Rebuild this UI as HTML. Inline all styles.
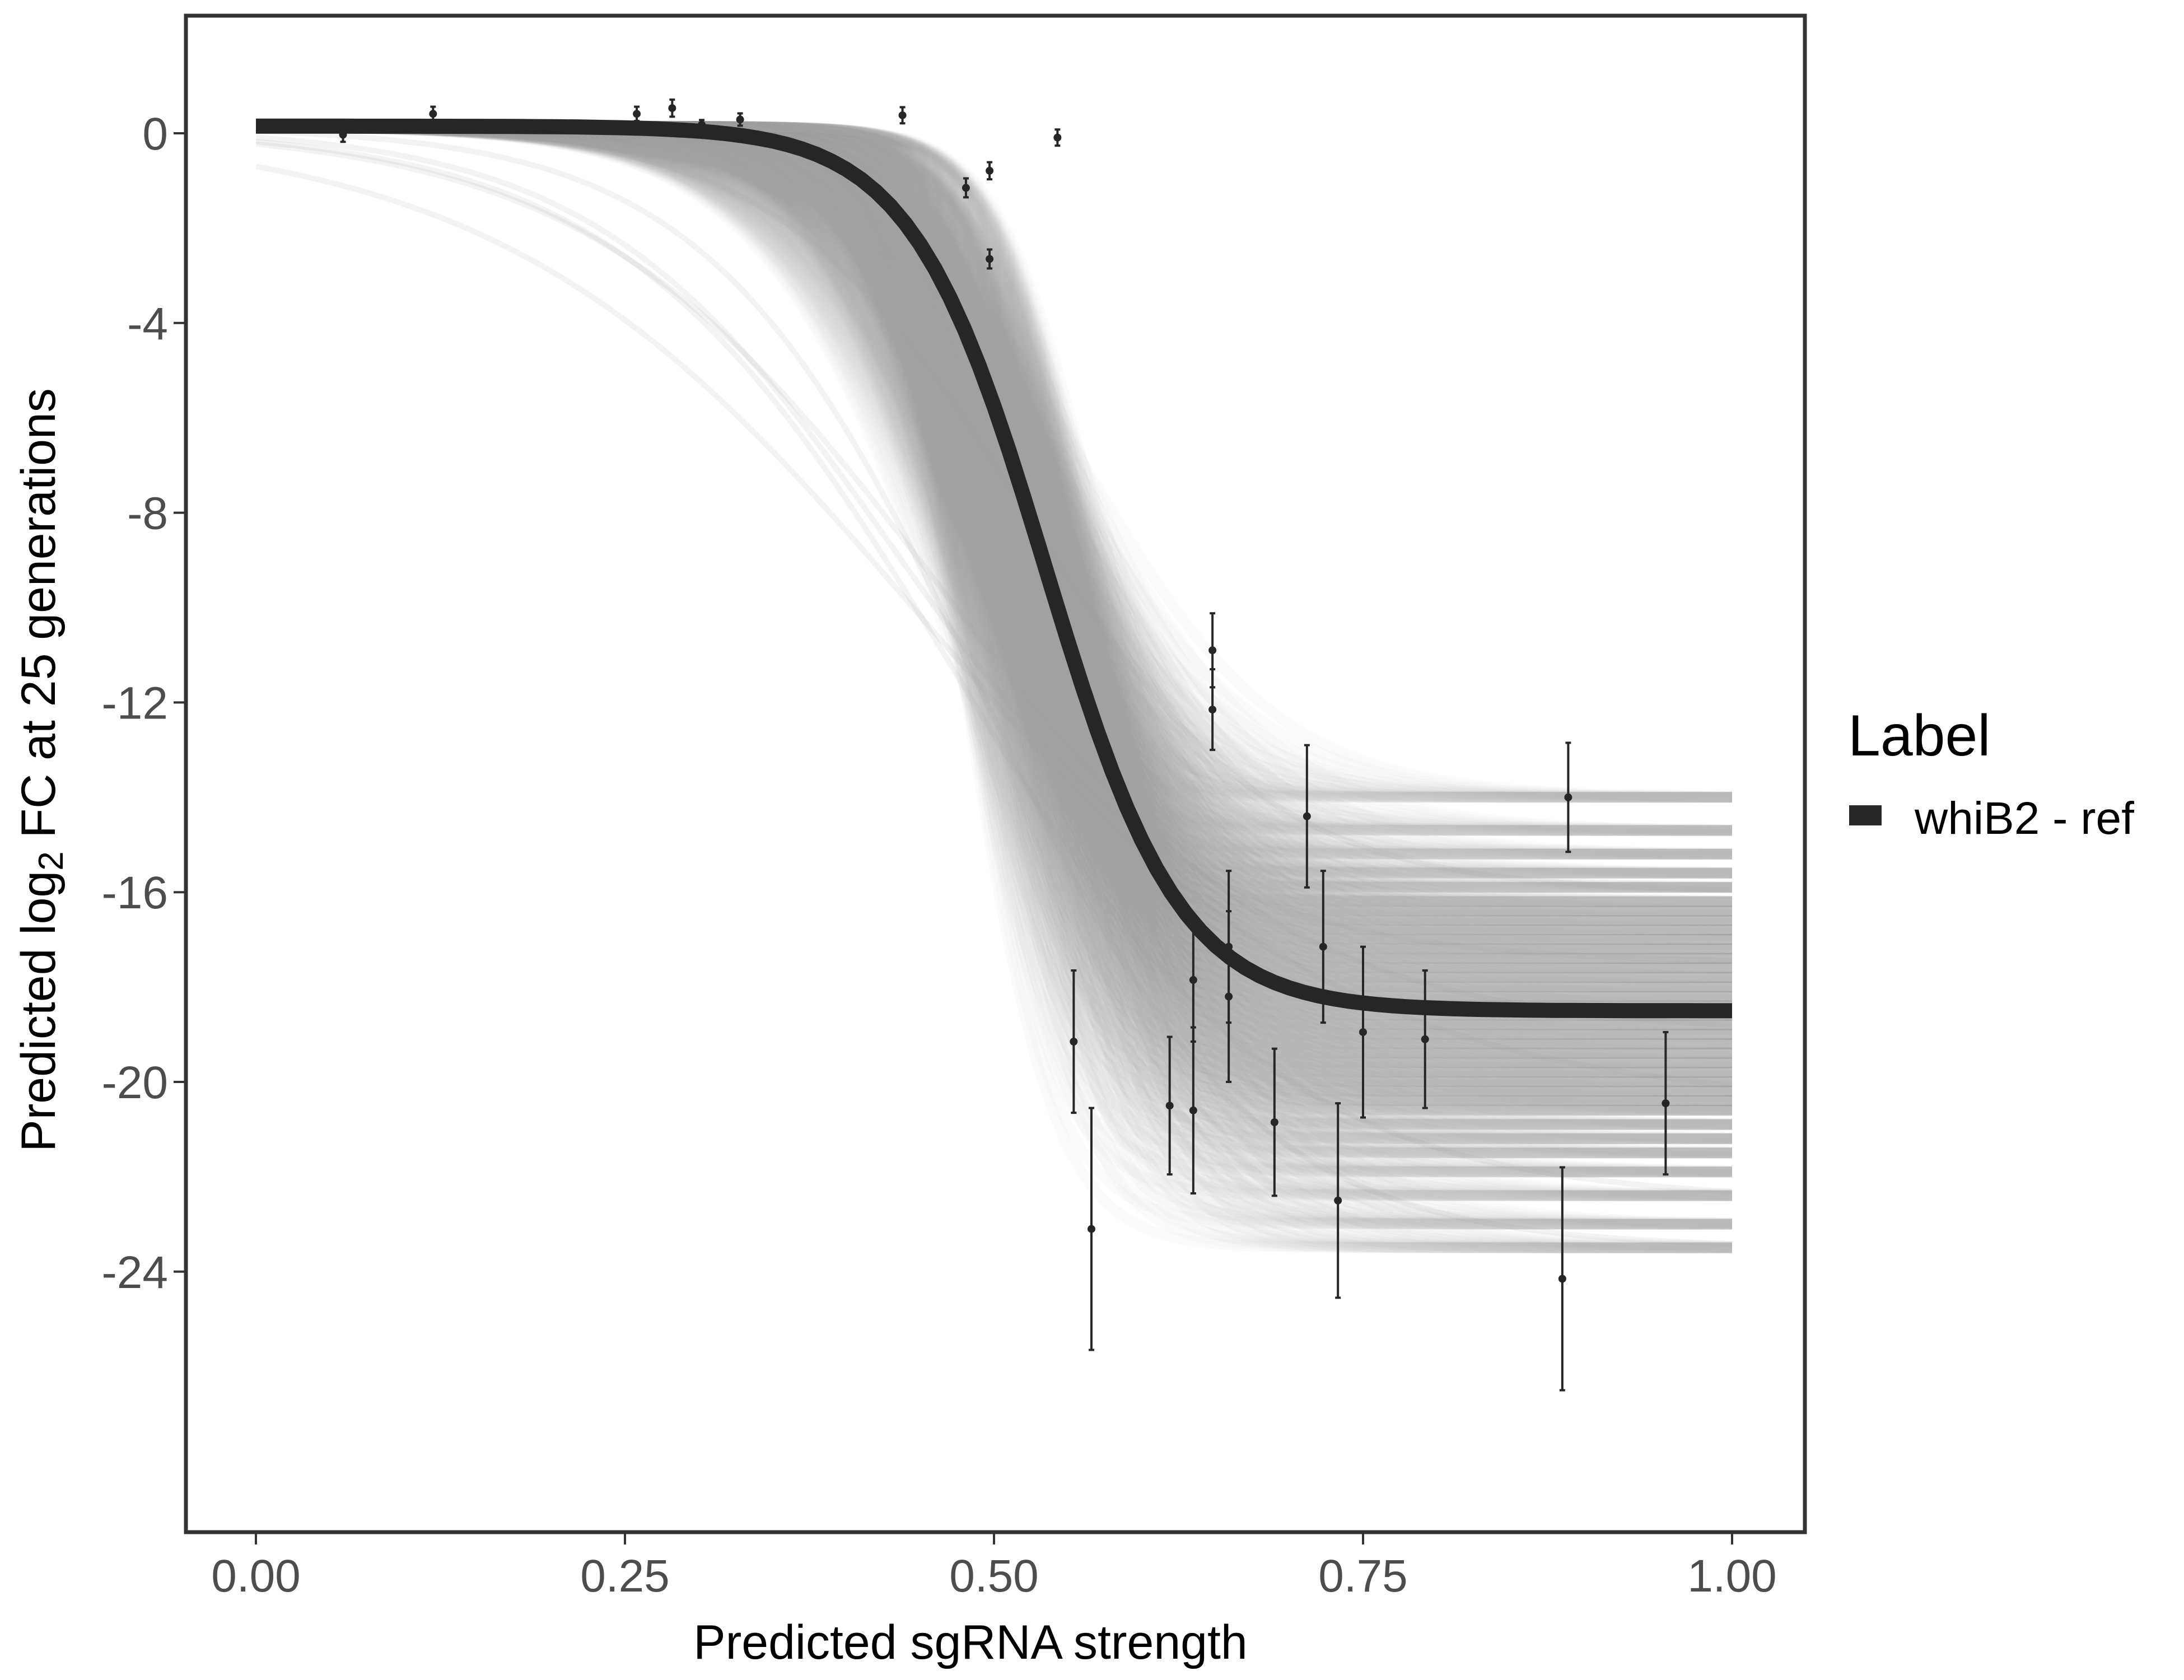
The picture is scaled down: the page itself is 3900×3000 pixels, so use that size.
<!DOCTYPE html>
<html><head><meta charset="utf-8"><style>
html,body{margin:0;padding:0;background:#fff;}
svg{display:block;font-family:"Liberation Sans",sans-serif;}
</style></head><body>
<svg id="chart" width="3900" height="3000" viewBox="0 0 3900 3000" xmlns="http://www.w3.org/2000/svg">
<rect x="0" y="0" width="3900" height="3000" fill="#fff"/>
<g id="curves"></g>
<g id="main"></g>
<g id="points"></g>
<rect x="332" y="28" width="2891" height="2708" fill="none" stroke="#333" stroke-width="7"/>
<g id="axes"></g>
<text x="1733" y="2962" font-size="86" text-anchor="middle" fill="#000">Predicted sgRNA strength</text>
<text transform="translate(98,1375) rotate(-90)" font-size="86" text-anchor="middle" fill="#000">Predicted  log<tspan font-size="62" dy="14">2</tspan><tspan dy="-14"> FC at 25 generations</tspan></text>
<g>
<text x="3300" y="1349" font-size="104" fill="#000">Label</text>
<rect x="3302" y="1438" width="58" height="36" fill="#262626"/>
<text x="3419" y="1489" font-size="82" fill="#000">whiB2 - ref</text>
</g>
</svg>
<script>
// ---- data ----
const xTicks = [0, 0.25, 0.5, 0.75, 1];
const xTickLabels = ["0.00", "0.25", "0.50", "0.75", "1.00"];
const yTicks = [0, -4, -8, -12, -16, -20, -24];
const yTickLabels = ["0", "-4", "-8", "-12", "-16", "-20", "-24"];
const pointX = [0.059,0.120,0.258,0.282,0.302,0.328,0.438,0.481,0.497,0.497,0.543,0.554,0.566,0.619,0.635,0.635,0.648,0.648,0.659,0.659,0.690,0.712,0.723,0.733,0.750,0.792,0.885,0.889,0.955];
const pointY = [-0.03,0.41,0.41,0.53,0.18,0.29,0.38,-1.15,-0.79,-2.65,-0.09,-19.15,-23.1,-20.5,-17.85,-20.6,-10.9,-12.15,-17.15,-18.2,-20.85,-14.4,-17.15,-22.5,-18.95,-19.1,-24.15,-14.0,-20.45];
const pointErr = [0.15,0.15,0.15,0.18,0.1,0.13,0.17,0.2,0.18,0.2,0.17,1.5,2.55,1.45,1.3,1.75,0.78,0.85,1.6,1.8,1.55,1.5,1.6,2.05,1.8,1.45,2.35,1.15,1.5];
const fitTop = 0.15, fitBottom = -18.5, fitMid = 0.535, fitSlope = 22;
const sampleBottoms = [-14.0,-14.7,-15.2,-15.6,-15.9,-16.2,-16.4,-16.6,-16.8,-17.0,-17.2,-17.4,-17.6,-17.8,-18.0,-18.2,-18.4,-18.6,-18.8,-19.0,-19.2,-19.4,-19.6,-19.8,-20.0,-20.2,-20.4,-20.6,-20.9,-21.2,-21.5,-21.9,-22.4,-23.0,-23.5];
const sampleMids = [0.48,0.50,0.515,0.53,0.545,0.56];
const sampleSlopes = [15,20,26,33];
const outlierMids = [0.45,0.47,0.43,0.49,0.52,0.46];
const outlierSlopes = [7,9,10,11,12,8.5];
const outlierBottoms = [-20.5,-22.5,-17.5,-23.5,-16.0,-19.0];

// ---- scales ----
const X0 = 457, X1 = 3093, Y0 = 238, YU = 84.7;
const sx = v => X0 + (X1 - X0) * v;
const sy = v => Y0 - YU * v;
const NS = "http://www.w3.org/2000/svg";
function mk(tag, attrs, parent) {
  const e = document.createElementNS(NS, tag);
  for (const k in attrs) e.setAttribute(k, attrs[k]);
  parent.appendChild(e);
  return e;
}
function logi(x, top, bot, mid, k) { return top + (bot - top) / (1 + Math.exp(-k * (x - mid))); }
function curvePath(top, bot, mid, k) {
  let d = "";
  for (let i = 0; i <= 100; i++) {
    const x = i / 100;
    d += (i ? "L" : "M") + sx(x).toFixed(1) + "," + sy(logi(x, top, bot, mid, k)).toFixed(1);
  }
  return d;
}

const gC = document.getElementById("curves");
for (const b of sampleBottoms) for (const m of sampleMids) for (const k of sampleSlopes) {
  const p = mk("path", {d: curvePath(fitTop, b, m, k), fill: "none", stroke: "#a0a0a0", "stroke-opacity": "0.045", "stroke-width": "19"}, gC);
  
  
}
for (let i = 0; i < outlierMids.length; i++) {
  const p = mk("path", {d: curvePath(fitTop, outlierBottoms[i], outlierMids[i], outlierSlopes[i]), fill: "none", stroke: "#a0a0a0", "stroke-opacity": "0.12", "stroke-width": "10"}, gC);
  
  
}

const gM = document.getElementById("main");
const mp = mk("path", {d: curvePath(fitTop, fitBottom, fitMid, fitSlope), fill: "none", stroke: "#262626", "stroke-width": "27"}, gM);



const gP = document.getElementById("points");
for (let i = 0; i < pointX.length; i++) {
  const x = sx(pointX[i]), yt = sy(pointY[i] + pointErr[i]), yb = sy(pointY[i] - pointErr[i]);
  const g = mk("g", {}, gP);
  
  
  mk("line", {x1: x, x2: x, y1: yt, y2: yb, stroke: "#262626", "stroke-width": "4"}, g);
  mk("line", {x1: x - 5, x2: x + 5, y1: yt, y2: yt, stroke: "#262626", "stroke-width": "4"}, g);
  mk("line", {x1: x - 5, x2: x + 5, y1: yb, y2: yb, stroke: "#262626", "stroke-width": "4"}, g);
  mk("circle", {cx: x, cy: sy(pointY[i]), r: 7, fill: "#262626"}, g);
}

const gA = document.getElementById("axes");
for (let i = 0; i < xTicks.length; i++) {
  const x = sx(xTicks[i]);
  const t = mk("line", {x1: x, x2: x, y1: 2739, y2: 2758, stroke: "#333", "stroke-width": "4"}, gA);
  
  
  const l = mk("text", {x: x, y: 2842, "font-size": "82", "text-anchor": "middle", fill: "#4d4d4d"}, gA);
  l.textContent = xTickLabels[i];
  
  
}
for (let i = 0; i < yTicks.length; i++) {
  const y = sy(yTicks[i]);
  const t = mk("line", {x1: 310, x2: 329, y1: y, y2: y, stroke: "#333", "stroke-width": "4"}, gA);
  
  
  const l = mk("text", {x: 300, y: y + 29, "font-size": "82", "text-anchor": "end", fill: "#4d4d4d"}, gA);
  l.textContent = yTickLabels[i];
  
  
}
</script>
</body></html>
